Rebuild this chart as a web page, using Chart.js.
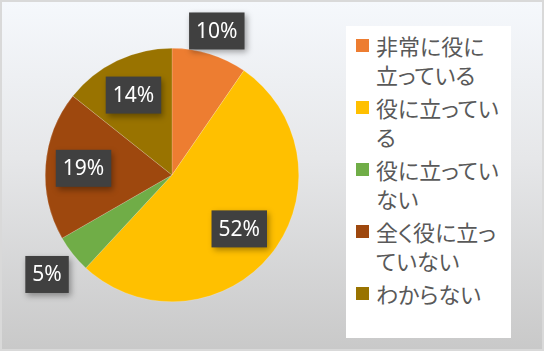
<!DOCTYPE html>
<html>
<head>
<meta charset="utf-8">
<script src="https://cdn.jsdelivr.net/npm/chart.js@4"></script>
<style>
  html, body { margin: 0; padding: 0; }
  body { width: 544px; height: 351px; overflow: hidden; }
  #wrap {
    position: relative;
    width: 540px;
    height: 347px;
    border: 2px solid #d9d9d9;
    background: linear-gradient(to bottom, #f5f8fc 0%, #e6e7e9 45%, #c9c9c9 100%);
  }
  #chart-box { position: absolute; left: -2px; top: -2px; width: 544px; height: 351px; }
  #legenda {
    position: absolute;
    left: 344px;
    top: 24px;
    width: 165px;
    height: 312px;
    background: #fff;
    font-family: "Noto Sans CJK JP", sans-serif;
    font-size: 22px;
    color: #595959;
    font-feature-settings: "palt";
  }
  .item { position: absolute; left: 10px; }
  .item .cor { position: absolute; left: 0; top: 8px; width: 13px; height: 13px; }
  .item .txt { position: absolute; left: 20px; white-space: nowrap; line-height: 29px; }
</style>
</head>
<body>
<div id="wrap">
  <div id="chart-box"><canvas id="grafico"></canvas></div>
  <div id="legenda"></div>
</div>
<script>
const categorias = [
  ["非常に役に", "立っている"],
  ["役に立ってい", "る"],
  ["役に立ってい", "ない"],
  ["全く役に立っ", "ていない"],
  ["わからない"],
];
const valores = [9.6, 52.3, 4.8, 19.0, 14.3];
const rotulos = ["10%", "52%", "5%", "19%", "14%"];
const cores = ["#ED7D31", "#FFC000", "#70AD47", "#9E480E", "#997300"];

// distancia do rotulo em relacao ao raio (fora / dentro)
const distRotulo = [1.19, 0.68, 1.26, 0.7, 0.7];

const rotulosPlugin = {
  id: "rotulos",
  afterDatasetsDraw(chart) {
    const ctx = chart.ctx;
    const meta = chart.getDatasetMeta(0);
    ctx.save();
    ctx.font = "21px 'Noto Sans', sans-serif";
    ctx.textAlign = "center";
    ctx.textBaseline = "middle";
    meta.data.forEach(function (arc, i) {
      const p = arc.getProps(["x", "y", "startAngle", "endAngle", "outerRadius"], true);
      const meio = (p.startAngle + p.endAngle) / 2;
      const r = p.outerRadius * distRotulo[i];
      const cx = p.x + Math.cos(meio) * r;
      const cy = p.y + Math.sin(meio) * r;
      const w = ctx.measureText(rotulos[i]).width + 14;
      const h = 37;
      ctx.shadowColor = "rgba(0,0,0,0.35)";
      ctx.shadowBlur = 6;
      ctx.shadowOffsetX = 2;
      ctx.shadowOffsetY = 3;
      ctx.fillStyle = "#404040";
      ctx.fillRect(cx - w / 2, cy - h / 2, w, h);
      ctx.shadowColor = "transparent";
      ctx.fillStyle = "#ffffff";
      ctx.fillText(rotulos[i], cx, cy + 1);
    });
    ctx.restore();
  },
};

const grafico = new Chart(document.getElementById("grafico"), {
  type: "pie",
  data: {
    labels: categorias,
    datasets: [
      {
        data: valores,
        backgroundColor: cores,
        borderColor: "rgba(255,255,255,0.35)",
        borderWidth: 0.5,
      },
    ],
  },
  options: {
    responsive: true,
    maintainAspectRatio: false,
    animation: false,
    layout: {
      padding: { left: 45, right: 245, top: 48, bottom: 49 },
    },
    plugins: {
      legend: { display: false },
      tooltip: { enabled: false },
    },
  },
  plugins: [rotulosPlugin],
});

// legenda em HTML, montada a partir dos dados do grafico
const legenda = document.getElementById("legenda");
const topos = [5, 67, 129, 191, 253];
grafico.data.labels.forEach(function (linhas, i) {
  const item = document.createElement("div");
  item.className = "item";
  item.style.top = topos[i] + "px";
  const cor = document.createElement("div");
  cor.className = "cor";
  cor.style.background = cores[i];
  const txt = document.createElement("div");
  txt.className = "txt";
  txt.innerHTML = linhas.join("<br>");
  item.appendChild(cor);
  item.appendChild(txt);
  legenda.appendChild(item);
});
</script>
</body>
</html>
